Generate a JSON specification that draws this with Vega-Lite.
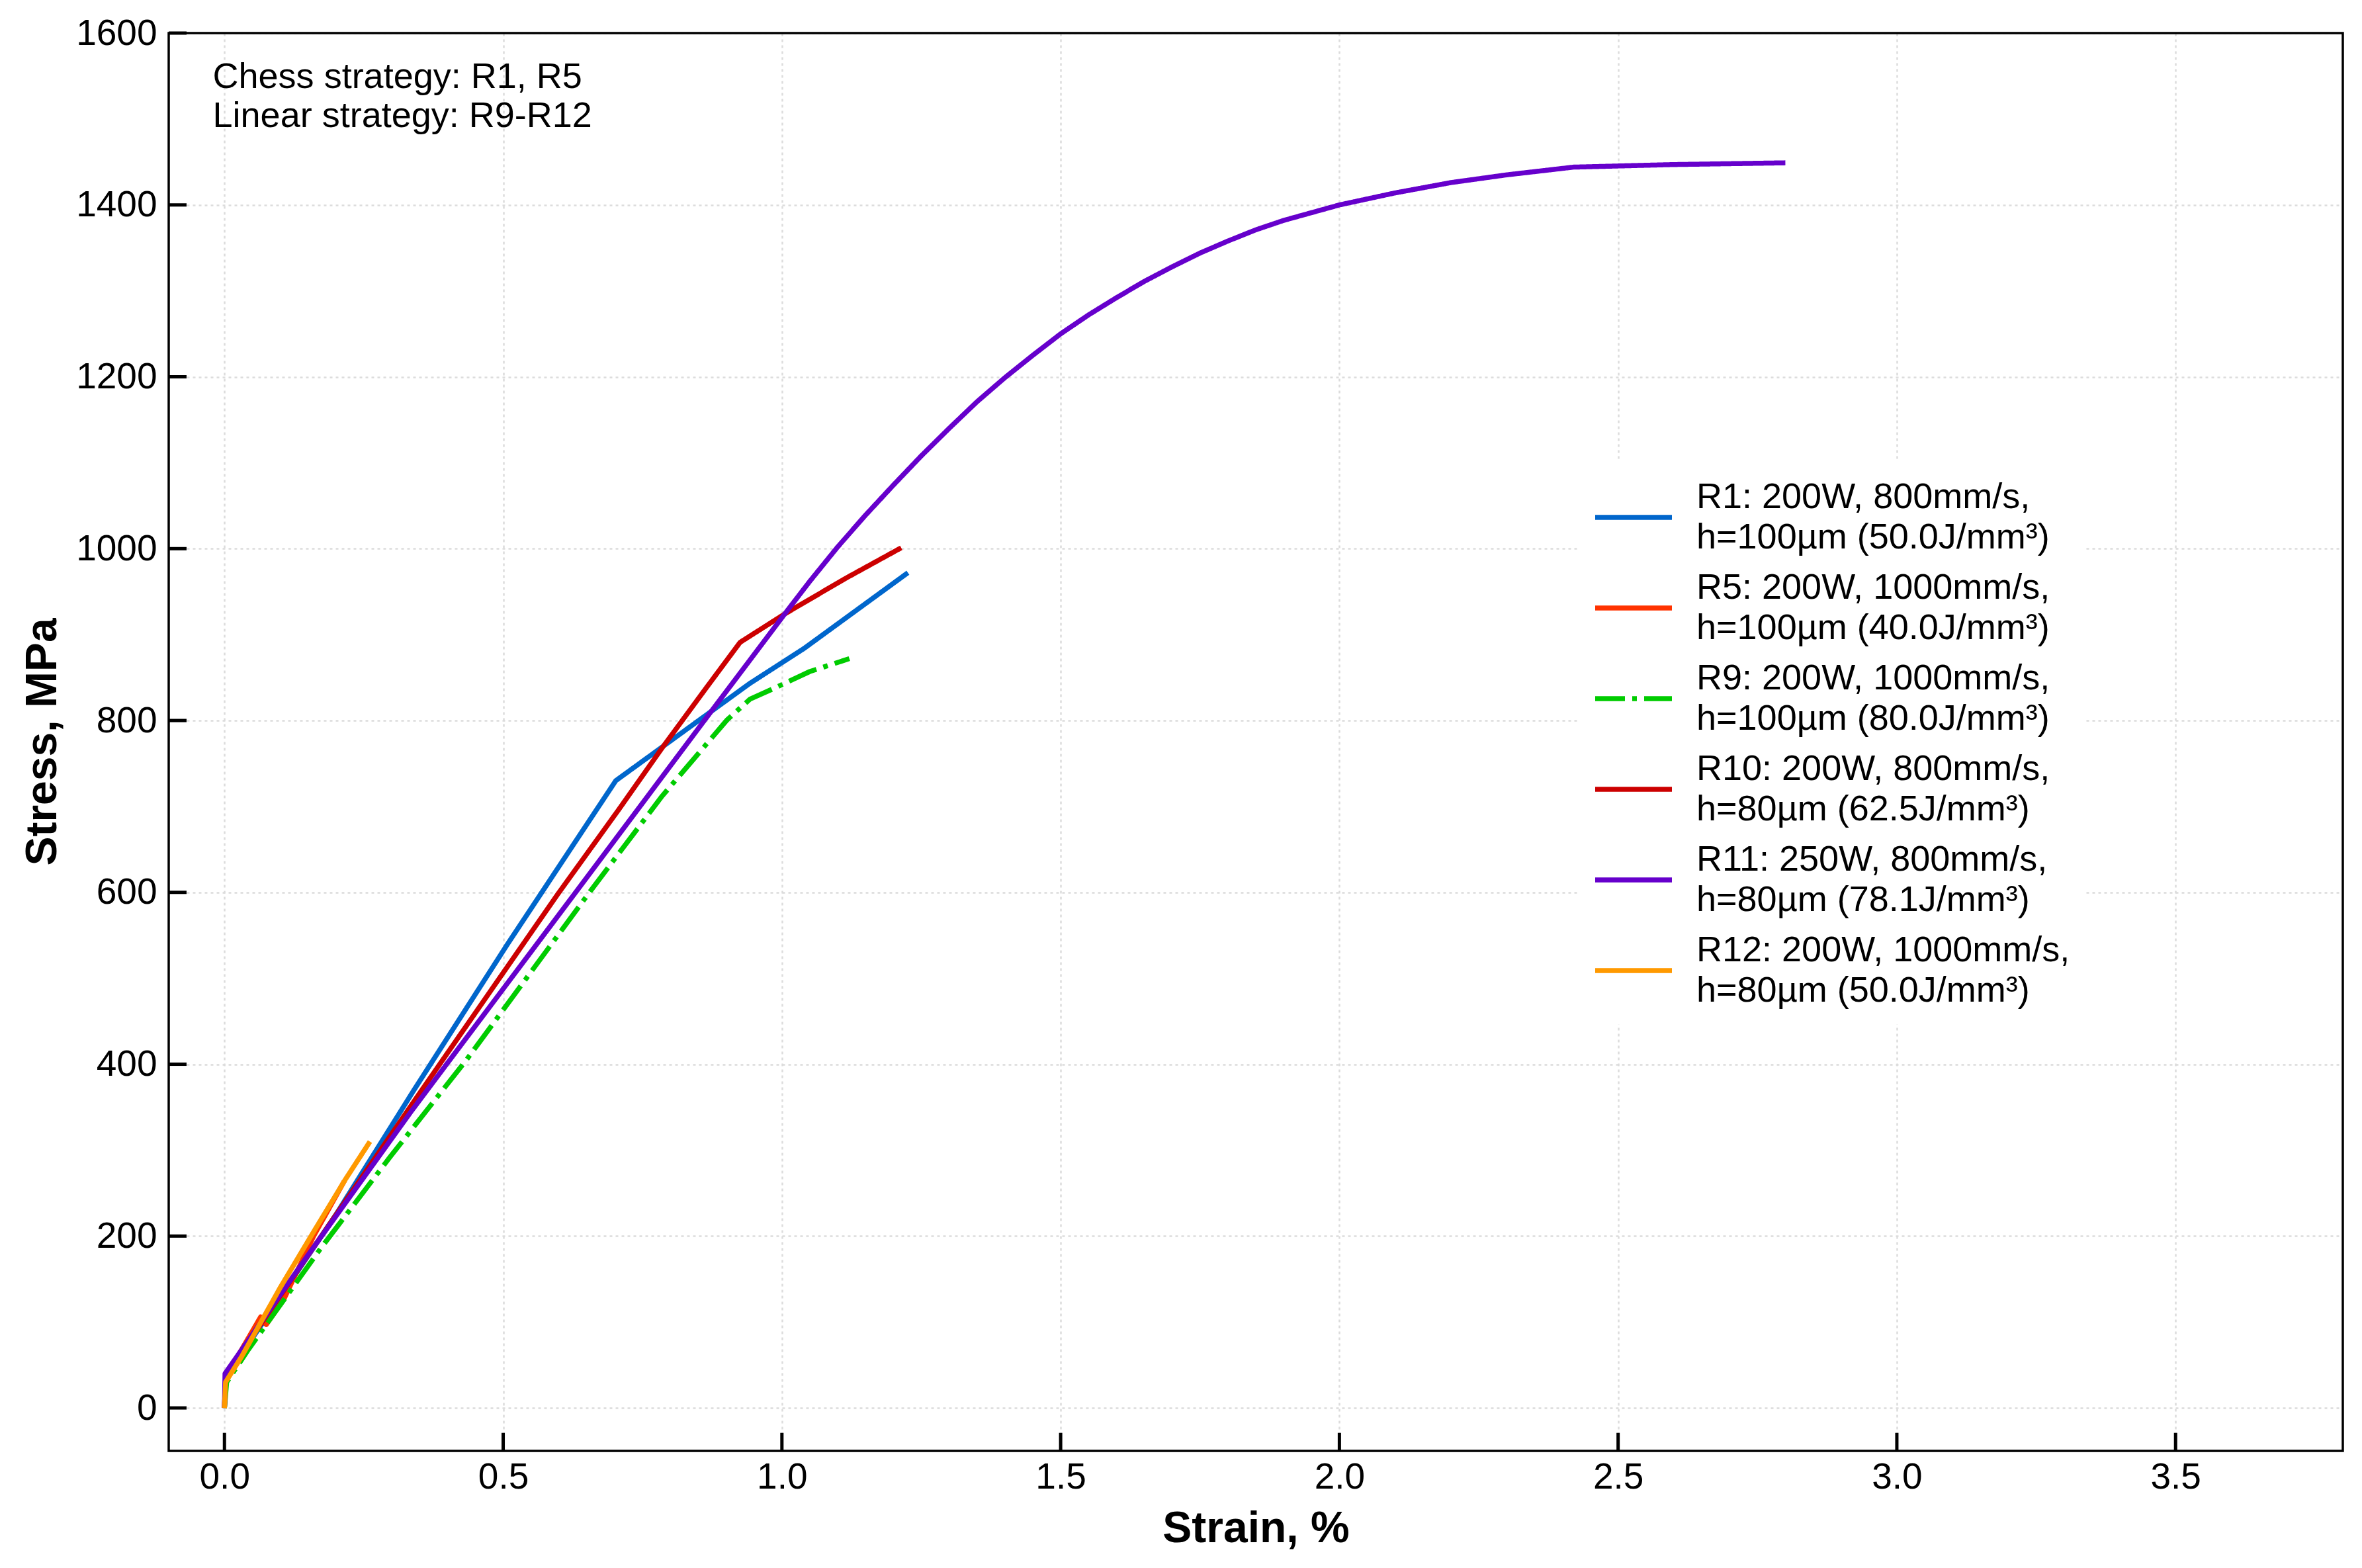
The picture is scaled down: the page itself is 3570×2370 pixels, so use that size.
{
  "$schema": "https://vega.github.io/schema/vega-lite/v6.json",
  "width": 3286,
  "height": 2143,
  "autosize": "none",
  "padding": {"left": 255, "top": 50, "right": 29, "bottom": 177},
  "background": "white",
  "config": {
    "font": "Liberation Sans",
    "view": {"stroke": null},
    "axis": {
      "domain": false, "ticks": false,
      "labelFont": "Liberation Sans", "labelFontSize": 55, "labelColor": "black",
      "labelFlush": false, "labelOverlap": false,
      "titleFont": "Liberation Sans", "titleFontSize": 66, "titleFontWeight": "bold", "titleColor": "black",
      "grid": true, "gridColor": "#dcdcdc", "gridDash": [4, 5], "gridWidth": 2.5
    },
    "axisX": {"labelPadding": 13, "titleX": 1643, "titleY": 137, "titleBaseline": "alphabetic"},
    "axisY": {"labelPadding": 18, "titleX": -171, "titleY": 1071, "titleAngle": -90, "titleBaseline": "alphabetic", "titleAlign": "center"},
    "legend": {
      "orient": "none", "legendX": 2129, "legendY": 647,
      "padding": 23, "fillColor": "white", "strokeColor": "transparent",
      "symbolType": "stroke", "symbolSize": 13456, "symbolStrokeWidth": 7.5,
      "labelFont": "Liberation Sans", "labelFontSize": 54, "labelColor": "black",
      "labelLimit": 0, "labelOffset": 33, "rowPadding": 17
    }
  },
  "layer": [
    {
      "data": {
        "values": [
          {"run": "R1: 200W, 800mm/s, h=100µm (50.0J/mm³)", "strain": 0, "stress": 0},
          {"run": "R1: 200W, 800mm/s, h=100µm (50.0J/mm³)", "strain": 0.002, "stress": 35},
          {"run": "R1: 200W, 800mm/s, h=100µm (50.0J/mm³)", "strain": 0.2, "stress": 225},
          {"run": "R1: 200W, 800mm/s, h=100µm (50.0J/mm³)", "strain": 0.339, "stress": 369},
          {"run": "R1: 200W, 800mm/s, h=100µm (50.0J/mm³)", "strain": 0.507, "stress": 539},
          {"run": "R1: 200W, 800mm/s, h=100µm (50.0J/mm³)", "strain": 0.702, "stress": 730},
          {"run": "R1: 200W, 800mm/s, h=100µm (50.0J/mm³)", "strain": 0.942, "stress": 843},
          {"run": "R1: 200W, 800mm/s, h=100µm (50.0J/mm³)", "strain": 1.04, "stress": 884},
          {"run": "R1: 200W, 800mm/s, h=100µm (50.0J/mm³)", "strain": 1.226, "stress": 972},

          {"run": "R5: 200W, 1000mm/s, h=100µm (40.0J/mm³)", "strain": 0, "stress": 0},
          {"run": "R5: 200W, 1000mm/s, h=100µm (40.0J/mm³)", "strain": 0.002, "stress": 36},
          {"run": "R5: 200W, 1000mm/s, h=100µm (40.0J/mm³)", "strain": 0.065, "stress": 106},
          {"run": "R5: 200W, 1000mm/s, h=100µm (40.0J/mm³)", "strain": 0.075, "stress": 97},
          {"run": "R5: 200W, 1000mm/s, h=100µm (40.0J/mm³)", "strain": 0.107, "stress": 127},
          {"run": "R5: 200W, 1000mm/s, h=100µm (40.0J/mm³)", "strain": 0.16, "stress": 200},
          {"run": "R5: 200W, 1000mm/s, h=100µm (40.0J/mm³)", "strain": 0.215, "stress": 264},

          {"run": "R9: 200W, 1000mm/s, h=100µm (80.0J/mm³)", "strain": 0, "stress": 0},
          {"run": "R9: 200W, 1000mm/s, h=100µm (80.0J/mm³)", "strain": 0.004, "stress": 30},
          {"run": "R9: 200W, 1000mm/s, h=100µm (80.0J/mm³)", "strain": 0.043, "stress": 68},
          {"run": "R9: 200W, 1000mm/s, h=100µm (80.0J/mm³)", "strain": 0.173, "stress": 186},
          {"run": "R9: 200W, 1000mm/s, h=100µm (80.0J/mm³)", "strain": 0.297, "stress": 292},
          {"run": "R9: 200W, 1000mm/s, h=100µm (80.0J/mm³)", "strain": 0.434, "stress": 405},
          {"run": "R9: 200W, 1000mm/s, h=100µm (80.0J/mm³)", "strain": 0.657, "stress": 602},
          {"run": "R9: 200W, 1000mm/s, h=100µm (80.0J/mm³)", "strain": 0.785, "stress": 712},
          {"run": "R9: 200W, 1000mm/s, h=100µm (80.0J/mm³)", "strain": 0.902, "stress": 801},
          {"run": "R9: 200W, 1000mm/s, h=100µm (80.0J/mm³)", "strain": 0.943, "stress": 825},
          {"run": "R9: 200W, 1000mm/s, h=100µm (80.0J/mm³)", "strain": 0.981, "stress": 836},
          {"run": "R9: 200W, 1000mm/s, h=100µm (80.0J/mm³)", "strain": 1.05, "stress": 857},
          {"run": "R9: 200W, 1000mm/s, h=100µm (80.0J/mm³)", "strain": 1.121, "stress": 872},

          {"run": "R10: 200W, 800mm/s, h=80µm (62.5J/mm³)", "strain": 0, "stress": 0},
          {"run": "R10: 200W, 800mm/s, h=80µm (62.5J/mm³)", "strain": 0.002, "stress": 38},
          {"run": "R10: 200W, 800mm/s, h=80µm (62.5J/mm³)", "strain": 0.353, "stress": 369},
          {"run": "R10: 200W, 800mm/s, h=80µm (62.5J/mm³)", "strain": 0.598, "stress": 598},
          {"run": "R10: 200W, 800mm/s, h=80µm (62.5J/mm³)", "strain": 0.708, "stress": 697},
          {"run": "R10: 200W, 800mm/s, h=80µm (62.5J/mm³)", "strain": 0.785, "stress": 768},
          {"run": "R10: 200W, 800mm/s, h=80µm (62.5J/mm³)", "strain": 0.862, "stress": 836},
          {"run": "R10: 200W, 800mm/s, h=80µm (62.5J/mm³)", "strain": 0.925, "stress": 891},
          {"run": "R10: 200W, 800mm/s, h=80µm (62.5J/mm³)", "strain": 1.005, "stress": 924},
          {"run": "R10: 200W, 800mm/s, h=80µm (62.5J/mm³)", "strain": 1.113, "stress": 965},
          {"run": "R10: 200W, 800mm/s, h=80µm (62.5J/mm³)", "strain": 1.214, "stress": 1001},

          {"run": "R11: 250W, 800mm/s, h=80µm (78.1J/mm³)", "strain": 0, "stress": 0},
          {"run": "R11: 250W, 800mm/s, h=80µm (78.1J/mm³)", "strain": 0.001, "stress": 40},
          {"run": "R11: 250W, 800mm/s, h=80µm (78.1J/mm³)", "strain": 0.15, "stress": 178},
          {"run": "R11: 250W, 800mm/s, h=80µm (78.1J/mm³)", "strain": 0.336, "stress": 346},
          {"run": "R11: 250W, 800mm/s, h=80µm (78.1J/mm³)", "strain": 0.63, "stress": 600},
          {"run": "R11: 250W, 800mm/s, h=80µm (78.1J/mm³)", "strain": 0.862, "stress": 801},
          {"run": "R11: 250W, 800mm/s, h=80µm (78.1J/mm³)", "strain": 1.005, "stress": 924},
          {"run": "R11: 250W, 800mm/s, h=80µm (78.1J/mm³)", "strain": 1.05, "stress": 962},
          {"run": "R11: 250W, 800mm/s, h=80µm (78.1J/mm³)", "strain": 1.1, "stress": 1002},
          {"run": "R11: 250W, 800mm/s, h=80µm (78.1J/mm³)", "strain": 1.15, "stress": 1039},
          {"run": "R11: 250W, 800mm/s, h=80µm (78.1J/mm³)", "strain": 1.2, "stress": 1074},
          {"run": "R11: 250W, 800mm/s, h=80µm (78.1J/mm³)", "strain": 1.25, "stress": 1108},
          {"run": "R11: 250W, 800mm/s, h=80µm (78.1J/mm³)", "strain": 1.3, "stress": 1140},
          {"run": "R11: 250W, 800mm/s, h=80µm (78.1J/mm³)", "strain": 1.35, "stress": 1171},
          {"run": "R11: 250W, 800mm/s, h=80µm (78.1J/mm³)", "strain": 1.4, "stress": 1199},
          {"run": "R11: 250W, 800mm/s, h=80µm (78.1J/mm³)", "strain": 1.45, "stress": 1225},
          {"run": "R11: 250W, 800mm/s, h=80µm (78.1J/mm³)", "strain": 1.5, "stress": 1250},
          {"run": "R11: 250W, 800mm/s, h=80µm (78.1J/mm³)", "strain": 1.55, "stress": 1272},
          {"run": "R11: 250W, 800mm/s, h=80µm (78.1J/mm³)", "strain": 1.6, "stress": 1292},
          {"run": "R11: 250W, 800mm/s, h=80µm (78.1J/mm³)", "strain": 1.65, "stress": 1311},
          {"run": "R11: 250W, 800mm/s, h=80µm (78.1J/mm³)", "strain": 1.7, "stress": 1328},
          {"run": "R11: 250W, 800mm/s, h=80µm (78.1J/mm³)", "strain": 1.75, "stress": 1344},
          {"run": "R11: 250W, 800mm/s, h=80µm (78.1J/mm³)", "strain": 1.8, "stress": 1358},
          {"run": "R11: 250W, 800mm/s, h=80µm (78.1J/mm³)", "strain": 1.85, "stress": 1371},
          {"run": "R11: 250W, 800mm/s, h=80µm (78.1J/mm³)", "strain": 1.9, "stress": 1382},
          {"run": "R11: 250W, 800mm/s, h=80µm (78.1J/mm³)", "strain": 1.95, "stress": 1391},
          {"run": "R11: 250W, 800mm/s, h=80µm (78.1J/mm³)", "strain": 2.0, "stress": 1400},
          {"run": "R11: 250W, 800mm/s, h=80µm (78.1J/mm³)", "strain": 2.1, "stress": 1414},
          {"run": "R11: 250W, 800mm/s, h=80µm (78.1J/mm³)", "strain": 2.2, "stress": 1426},
          {"run": "R11: 250W, 800mm/s, h=80µm (78.1J/mm³)", "strain": 2.3, "stress": 1435},
          {"run": "R11: 250W, 800mm/s, h=80µm (78.1J/mm³)", "strain": 2.42, "stress": 1444},
          {"run": "R11: 250W, 800mm/s, h=80µm (78.1J/mm³)", "strain": 2.6, "stress": 1447},
          {"run": "R11: 250W, 800mm/s, h=80µm (78.1J/mm³)", "strain": 2.8, "stress": 1449},

          {"run": "R12: 200W, 1000mm/s, h=80µm (50.0J/mm³)", "strain": 0, "stress": 0},
          {"run": "R12: 200W, 1000mm/s, h=80µm (50.0J/mm³)", "strain": 0.002, "stress": 30},
          {"run": "R12: 200W, 1000mm/s, h=80µm (50.0J/mm³)", "strain": 0.031, "stress": 60},
          {"run": "R12: 200W, 1000mm/s, h=80µm (50.0J/mm³)", "strain": 0.1, "stress": 140},
          {"run": "R12: 200W, 1000mm/s, h=80µm (50.0J/mm³)", "strain": 0.16, "stress": 205},
          {"run": "R12: 200W, 1000mm/s, h=80µm (50.0J/mm³)", "strain": 0.217, "stress": 266},
          {"run": "R12: 200W, 1000mm/s, h=80µm (50.0J/mm³)", "strain": 0.261, "stress": 310}
        ]
      },
      "mark": {"type": "line", "strokeWidth": 7.5, "strokeCap": "butt", "strokeJoin": "round"},
      "encoding": {
        "x": {
          "field": "strain", "type": "quantitative",
          "scale": {"domain": [-0.1, 3.8], "nice": false, "zero": false},
          "axis": {"values": [0, 0.5, 1, 1.5, 2, 2.5, 3, 3.5], "format": ".1f", "title": "Strain, %"}
        },
        "y": {
          "field": "stress", "type": "quantitative",
          "scale": {"domain": [-50, 1600], "nice": false, "zero": false},
          "axis": {"values": [0, 200, 400, 600, 800, 1000, 1200, 1400, 1600], "format": "d", "title": "Stress, MPa"}
        },
        "color": {
          "field": "run", "type": "nominal",
          "scale": {
            "domain": [
              "R1: 200W, 800mm/s, h=100µm (50.0J/mm³)",
              "R5: 200W, 1000mm/s, h=100µm (40.0J/mm³)",
              "R9: 200W, 1000mm/s, h=100µm (80.0J/mm³)",
              "R10: 200W, 800mm/s, h=80µm (62.5J/mm³)",
              "R11: 250W, 800mm/s, h=80µm (78.1J/mm³)",
              "R12: 200W, 1000mm/s, h=80µm (50.0J/mm³)"
            ],
            "range": ["#0066cc", "#ff3300", "#00cc00", "#cc0000", "#6600cc", "#ff9900"]
          },
          "legend": {
            "title": null,
            "labelExpr": "[split(datum.label, ' h=')[0], 'h=' + split(datum.label, ' h=')[1]]",
            "encode": {"labels": {"update": {"lineHeight": {"value": 61}, "dy": {"value": -30}}}}
          }
        },
        "strokeDash": {
          "field": "run", "type": "nominal",
          "scale": {
            "domain": [
              "R1: 200W, 800mm/s, h=100µm (50.0J/mm³)",
              "R5: 200W, 1000mm/s, h=100µm (40.0J/mm³)",
              "R9: 200W, 1000mm/s, h=100µm (80.0J/mm³)",
              "R10: 200W, 800mm/s, h=80µm (62.5J/mm³)",
              "R11: 250W, 800mm/s, h=80µm (78.1J/mm³)",
              "R12: 200W, 1000mm/s, h=80µm (50.0J/mm³)"
            ],
            "range": [[1, 0], [1, 0], [45, 11, 7, 11], [1, 0], [1, 0], [1, 0]]
          },
          "legend": {
            "title": null,
            "labelExpr": "[split(datum.label, ' h=')[0], 'h=' + split(datum.label, ' h=')[1]]",
            "encode": {"labels": {"update": {"lineHeight": {"value": 61}, "dy": {"value": -30}}}}
          }
        }
      }
    },
    {
      "data": {"values": [{"tick": 0}, {"tick": 0.5}, {"tick": 1}, {"tick": 1.5}, {"tick": 2}, {"tick": 2.5}, {"tick": 3}, {"tick": 3.5}]},
      "mark": {"type": "rule", "color": "black", "strokeWidth": 5},
      "encoding": {
        "x": {"field": "tick", "type": "quantitative"},
        "y": {"datum": -50, "type": "quantitative"},
        "y2": {"datum": -29}
      }
    },
    {
      "data": {"values": [{"tick": 0}, {"tick": 200}, {"tick": 400}, {"tick": 600}, {"tick": 800}, {"tick": 1000}, {"tick": 1200}, {"tick": 1400}, {"tick": 1600}]},
      "mark": {"type": "rule", "color": "black", "strokeWidth": 5},
      "encoding": {
        "y": {"field": "tick", "type": "quantitative"},
        "x": {"datum": -0.1, "type": "quantitative"},
        "x2": {"datum": -0.068}
      }
    },
    {
      "data": {"values": [{}]},
      "mark": {"type": "rect", "fill": null, "fillOpacity": 0, "stroke": "black", "strokeWidth": 3.5},
      "encoding": {
        "x": {"datum": -0.1, "type": "quantitative"},
        "x2": {"datum": 3.8},
        "y": {"datum": -50, "type": "quantitative"},
        "y2": {"datum": 1600}
      }
    },
    {
      "data": {"values": [{}]},
      "mark": {"type": "text", "align": "left", "baseline": "top", "fontSize": 54, "lineHeight": 59, "color": "black", "font": "Liberation Sans"},
      "encoding": {
        "x": {"datum": -0.021, "type": "quantitative"},
        "y": {"datum": 1569, "type": "quantitative"},
        "text": {"value": ["Chess strategy: R1, R5", "Linear strategy: R9-R12"]}
      }
    }
  ]
}
